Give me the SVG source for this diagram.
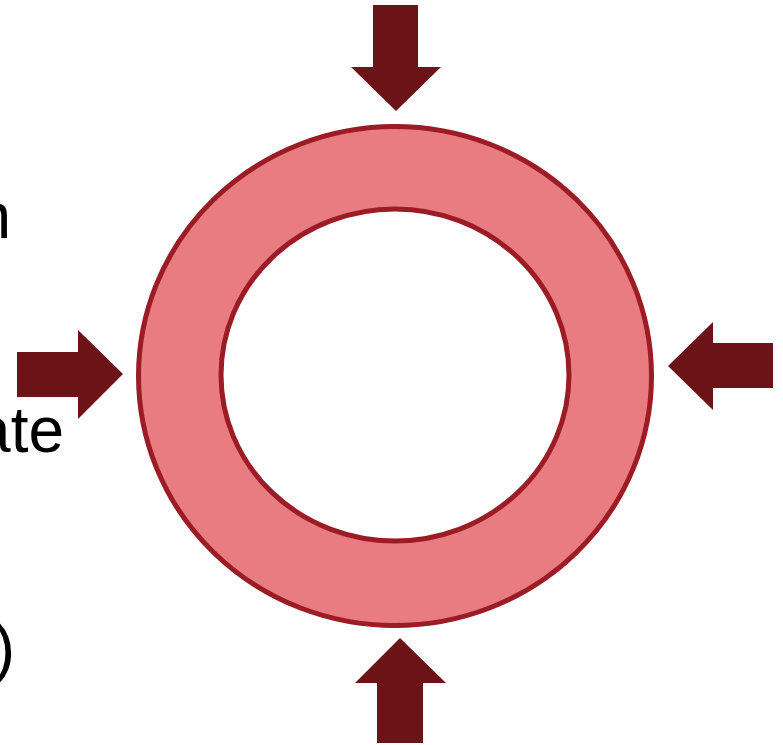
<svg xmlns="http://www.w3.org/2000/svg" width="783" height="745" viewBox="0 0 783 745">
<style>
.arrow{fill:#6b1317;}
.ring{fill:#e87c80;stroke:#9b1c24;stroke-width:5;}
.hole{fill:#ffffff;stroke:#9b1c24;stroke-width:5;}
.t{font-family:"Liberation Sans",Arial,sans-serif;font-size:64px;fill:#000;text-anchor:end;}
</style>
<rect width="783" height="745" fill="#ffffff"/>
<g id="ring">
<ellipse class="ring" cx="395" cy="376" rx="256.5" ry="249.5"/>
<ellipse class="hole" cx="395" cy="375" rx="174" ry="166"/>
</g>
<g id="arrows">
<polygon id="arrow-top" class="arrow" points="373,5 418,5 418,67 441,67 396,111 351,67 373,67"/>
<polygon id="arrow-bottom" class="arrow" points="377,743 423,743 423,683 446,683 400,638 355,683 377,683"/>
<polygon id="arrow-right" class="arrow" points="773,343 773,388 713,388 713,410 668,366 713,322 713,343"/>
<polygon id="arrow-left" class="arrow" points="17,352 78,352 78,330 123,374 78,419 78,397 17,397"/>
</g>
<g id="labels">
<text class="t" x="11" y="238">n</text>
<text class="t" x="64" y="452">ate</text>
<text class="t" x="15" y="670">)</text>
</g>
</svg>
